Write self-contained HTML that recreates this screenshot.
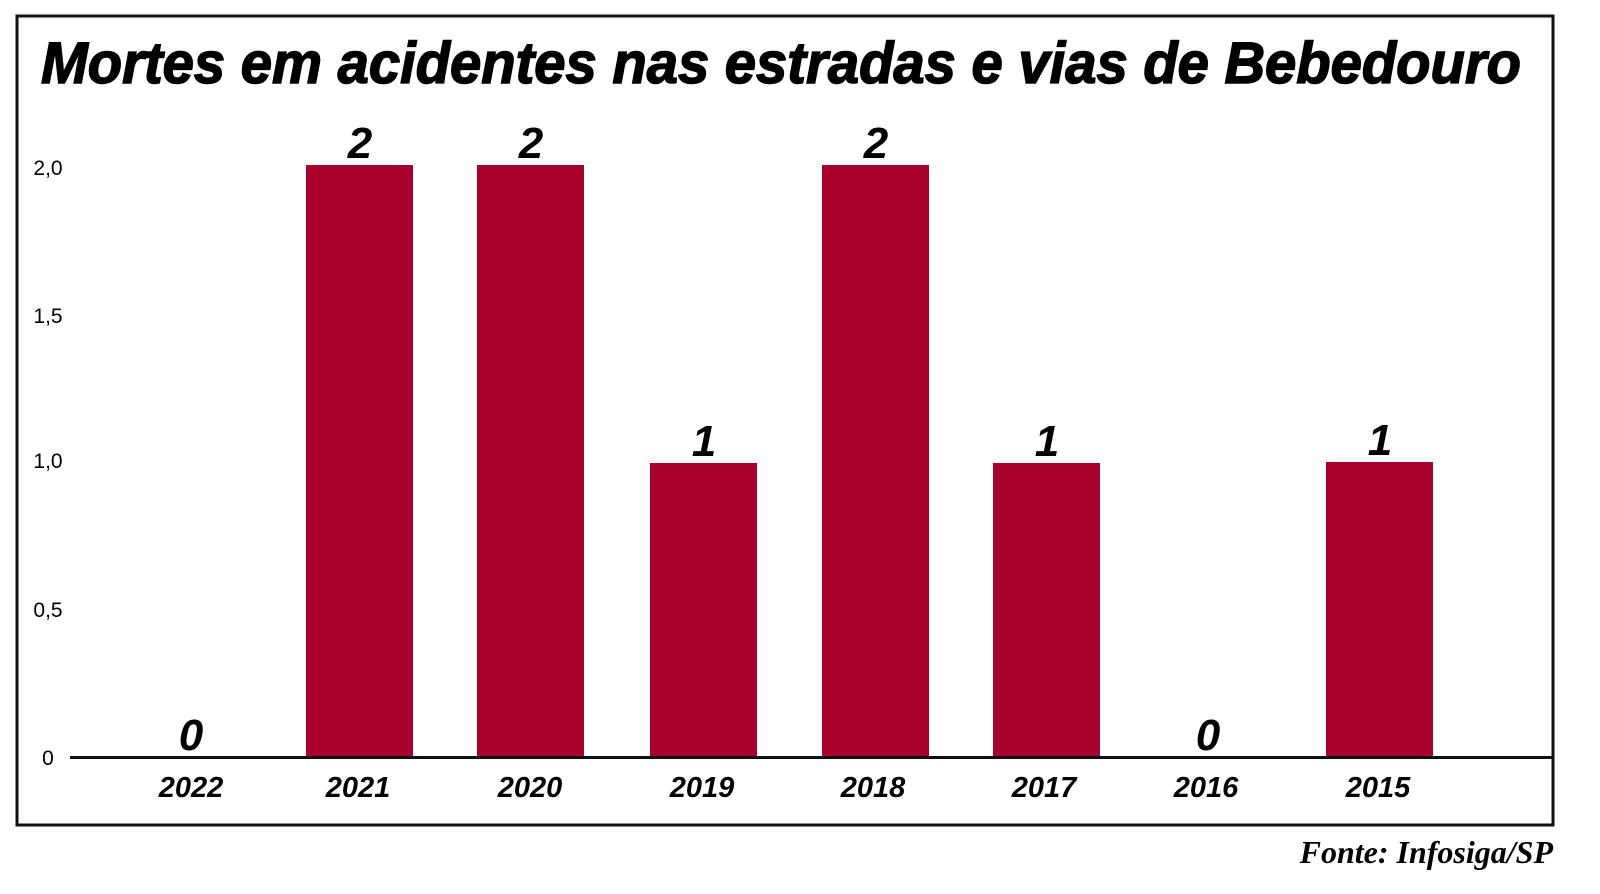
<!DOCTYPE html>
<html><head><meta charset="utf-8"><style>
body{margin:0;background:#fff;width:1600px;height:894px;overflow:hidden}
svg{display:block}
</style></head><body>
<svg width="1600" height="894" viewBox="0 0 1600 894" xmlns="http://www.w3.org/2000/svg">
<rect x="17" y="16" width="1536" height="809" fill="#fff" stroke="#111" stroke-width="3"/>
<text x="781" y="83" text-anchor="middle" font-family="Liberation Sans, sans-serif" font-weight="bold" font-style="italic" font-size="58" textLength="1480" lengthAdjust="spacingAndGlyphs" fill="#000" stroke="#000" stroke-width="1.5">Mortes em acidentes nas estradas e vias de Bebedouro</text>
<g font-family="Liberation Sans, sans-serif" font-size="21" fill="#000" text-anchor="middle">
<text x="48" y="175">2,0</text>
<text x="48" y="323">1,5</text>
<text x="48" y="468">1,0</text>
<text x="48" y="617">0,5</text>
<text x="48" y="765">0</text>
</g>
<g fill="#a8002c">
<rect x="306" y="165" width="107" height="592"/>
<rect x="477" y="165" width="107" height="592"/>
<rect x="650" y="463" width="107" height="294"/>
<rect x="822" y="165" width="107" height="592"/>
<rect x="993" y="463" width="107" height="294"/>
<rect x="1326" y="462" width="107" height="295"/>
</g>
<line x1="70" y1="757.5" x2="1553" y2="757.5" stroke="#111" stroke-width="3"/>
<g font-family="Liberation Sans, sans-serif" font-weight="bold" font-style="italic" font-size="44" fill="#000" text-anchor="middle">
<text x="191" y="750">0</text>
<text x="360" y="158">2</text>
<text x="531" y="158">2</text>
<text x="704" y="456">1</text>
<text x="876" y="158">2</text>
<text x="1047" y="456">1</text>
<text x="1208" y="750">0</text>
<text x="1380" y="455">1</text>
</g>
<g font-family="Liberation Sans, sans-serif" font-weight="bold" font-style="italic" font-size="29" fill="#000" text-anchor="middle">
<text x="191" y="797">2022</text>
<text x="358" y="797">2021</text>
<text x="530" y="797">2020</text>
<text x="702" y="797">2019</text>
<text x="873" y="797">2018</text>
<text x="1044" y="797">2017</text>
<text x="1206" y="797">2016</text>
<text x="1378" y="797">2015</text>
</g>
<text x="1553" y="863" text-anchor="end" font-family="Liberation Serif, serif" font-weight="bold" font-style="italic" font-size="32" fill="#000">Fonte: Infosiga/SP</text>
</svg>
</body></html>
